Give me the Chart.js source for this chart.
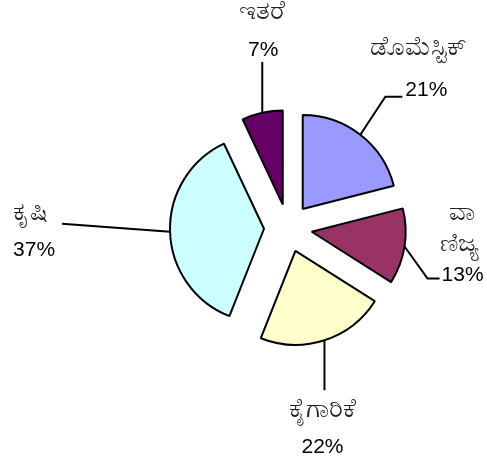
<!DOCTYPE html>
<html>
<head>
<meta charset="utf-8">
<script src="https://cdn.jsdelivr.net/npm/chart.js@4.4.0/dist/chart.umd.min.js"></script>
<style>
  html, body { margin: 0; padding: 0; background: #fff; }
  #wrap { width: 487px; height: 463px; }
</style>
</head>
<body>
<div id="wrap"><canvas id="pieChart" width="487" height="463"></canvas></div>
<script>
// Daten
const categories = ['ಡೊಮೆಸ್ಟಿಕ್', 'ವಾಣಿಜ್ಯ', 'ಕೈಗಾರಿಕೆ', 'ಕೃಷಿ', 'ಇತರೆ'];
const nameRows = [['ಡೊಮೆಸ್ಟಿಕ್'], ['ವಾ', 'ಣಿಜ್ಯ'], ['ಕೈಗಾರಿಕೆ'], ['ಕೃಷಿ'], ['ಇತರೆ']];
const shares = [21, 13, 22, 37, 7];
const sliceColors = ['#9999FF', '#993366', '#FFFFCC', '#CCFFFF', '#660066'];

// how far each slice is pulled out of the pie (px)
const explode = 24;

// leader lines + text, relative to the outer middle point of each slice
const labelLayout = [
    { line: [[25, -38], [42, -38]], pct: [45, -45, 'left'], names: [[58, -87]] },
    { line: [[23, 32], [35, 32]], pct: [37, 29, 'left'], names: [[57, -34], [55, -3]] },
    { line: [[0, 50]], pct: [-2, 107, 'center'], names: [[-2, 70]] },
    { line: [[-108, -8]], pct: [-136, 18, 'center'], names: [[-140, -19]] },
    { line: [[0, -51]], pct: [1, -63, 'center'], names: [[0, -101]] }
];

const pctFont = '21px "Liberation Sans", Arial, sans-serif';
const nameFont = '26px "Liberation Sans", "Noto Sans", sans-serif';

// draw the slices pulled out along their middle angle
const explodePlugin = {
    id: 'explode',
    beforeDatasetDraw(chart, args) {
        const ctx = chart.ctx;
        args.meta.data.forEach((arc) => {
            const mid = (arc.startAngle + arc.endAngle) / 2;
            ctx.save();
            ctx.translate(Math.cos(mid) * explode, Math.sin(mid) * explode);
            arc.draw(ctx);
            ctx.restore();
        });
        return false;
    }
};

// leader lines and labels
const labelPlugin = {
    id: 'pieLabels',
    afterDatasetsDraw(chart) {
        const ctx = chart.ctx;
        const arcs = chart.getDatasetMeta(0).data;
        arcs.forEach((arc, i) => {
            const mid = (arc.startAngle + arc.endAngle) / 2;
            const r = arc.outerRadius + explode;
            const ax = arc.x + Math.cos(mid) * r;
            const ay = arc.y + Math.sin(mid) * r;
            const lay = labelLayout[i];

            ctx.save();
            ctx.strokeStyle = '#000';
            ctx.lineWidth = 2;
            ctx.beginPath();
            ctx.moveTo(ax, ay);
            lay.line.forEach(p => ctx.lineTo(ax + p[0], ay + p[1]));
            ctx.stroke();

            ctx.textBaseline = 'middle';
            ctx.font = pctFont;
            ctx.fillStyle = '#000';
            ctx.textAlign = lay.pct[2];
            ctx.fillText(shares[i] + '%', ax + lay.pct[0], ay + lay.pct[1]);

            ctx.font = nameFont;
            ctx.fillStyle = '#222';
            ctx.textAlign = 'center';
            nameRows[i].forEach((txt, k) => {
                const p = lay.names[k];
                ctx.fillText(txt, ax + p[0], ay + p[1]);
            });
            ctx.restore();
        });
    }
};

const ctx = document.getElementById('pieChart').getContext('2d');
new Chart(ctx, {
    type: 'pie',
    data: {
        labels: categories,
        datasets: [{
            data: shares,
            backgroundColor: sliceColors,
            borderColor: '#000',
            borderWidth: 2
        }]
    },
    options: {
        responsive: false,
        animation: false,
        radius: 94,
        layout: {
            padding: { left: 89, right: 0, top: 0, bottom: 7 }
        },
        plugins: {
            legend: { display: false },
            tooltip: { enabled: false }
        }
    },
    plugins: [explodePlugin, labelPlugin]
});
</script>
</body>
</html>
